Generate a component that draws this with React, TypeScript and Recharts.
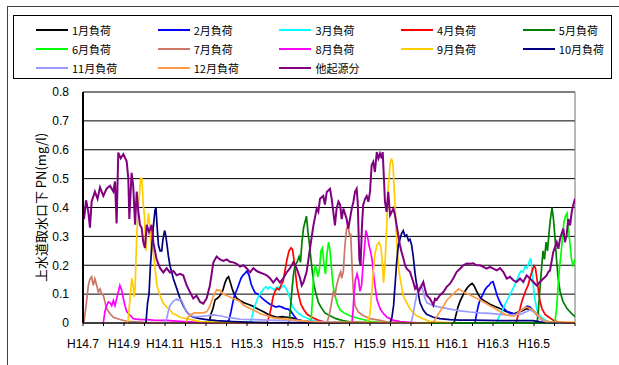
import { CartesianGrid, Line, LineChart, ReferenceLine, XAxis, YAxis } from "recharts";

type Pt = [number, number];

// x = months counted from H14.7, y = PN (mg/l)
const monthTicks = [0, 1, 2, 3, 4, 5, 6, 7, 8, 9, 10, 11, 12, 13, 14, 15, 16, 17, 18, 19, 20, 21, 22, 23, 24];
const monthLabels = ["H14.7", "H14.9", "H14.11", "H15.1", "H15.3", "H15.5", "H15.7", "H15.9", "H15.11", "H16.1", "H16.3", "H16.5"];
const pnTicks = [0, 0.1, 0.2, 0.3, 0.4, 0.5, 0.6, 0.7, 0.8];

const load01: Pt[] = [
  [6.15, 0], [6.24, 0.03], [6.34, 0.05], [6.44, 0.08], [6.54, 0.085], [6.63, 0.09], [6.73, 0.1], [6.83, 0.115],
  [6.93, 0.14], [7.02, 0.155], [7.1, 0.16], [7.17, 0.145], [7.27, 0.12], [7.37, 0.1], [7.51, 0.085], [7.66, 0.078],
  [7.85, 0.07], [8.05, 0.065], [8.24, 0.06], [8.44, 0.052], [8.63, 0.045], [8.83, 0.038], [9.02, 0.03], [9.22, 0.025],
  [9.46, 0.02], [9.71, 0.022], [9.95, 0.02], [10.2, 0.018], [10.44, 0.012], [10.68, 0.008], [11.07, 0.005], [12, 0.002],
  [18.1, 0], [18.2, 0.03], [18.29, 0.055], [18.39, 0.075], [18.49, 0.09], [18.59, 0.105], [18.68, 0.115], [18.78, 0.125],
  [18.88, 0.132], [18.98, 0.137], [19.07, 0.13], [19.17, 0.115], [19.27, 0.1], [19.41, 0.085], [19.61, 0.075], [19.85, 0.065],
  [20.1, 0.057], [20.34, 0.05], [20.59, 0.042], [20.83, 0.035], [21.02, 0.032], [21.22, 0.037], [21.41, 0.042], [21.66, 0.05],
  [21.8, 0.048], [22.0, 0.04], [22.2, 0.025], [22.39, 0.012], [22.59, 0.004], [23.2, 0],
];

const load02: Pt[] = [
  [7.02, 0], [7.12, 0.01], [7.22, 0.04], [7.32, 0.075], [7.41, 0.1], [7.51, 0.115], [7.61, 0.135], [7.71, 0.155],
  [7.8, 0.165], [7.9, 0.172], [8.0, 0.18], [8.1, 0.165], [8.2, 0.135], [8.29, 0.12], [8.39, 0.105], [8.54, 0.1],
  [8.68, 0.09], [8.83, 0.08], [8.98, 0.072], [9.12, 0.065], [9.27, 0.06], [9.41, 0.055], [9.56, 0.058], [9.71, 0.055],
  [9.85, 0.05], [10.0, 0.048], [10.15, 0.04], [10.29, 0.025], [10.44, 0.012], [10.59, 0.005], [11.5, 0],
  [19.12, 0], [19.22, 0.04], [19.32, 0.07], [19.41, 0.085], [19.51, 0.1], [19.61, 0.115], [19.71, 0.125], [19.8, 0.13],
  [19.9, 0.14], [20.0, 0.143], [20.1, 0.12], [20.2, 0.095], [20.29, 0.08], [20.39, 0.065], [20.54, 0.05], [20.68, 0.04],
  [20.88, 0.035], [21.07, 0.03], [21.27, 0.038], [21.46, 0.048], [21.66, 0.058], [21.8, 0.055], [21.95, 0.045], [22.1, 0.033],
  [22.29, 0.018], [22.49, 0.008], [22.68, 0.003], [23.4, 0],
];

const load03: Pt[] = [
  [8.15, 0], [8.24, 0.02], [8.34, 0.05], [8.44, 0.07], [8.54, 0.09], [8.63, 0.1], [8.73, 0.11], [8.83, 0.12],
  [8.93, 0.125], [9.02, 0.118], [9.12, 0.125], [9.22, 0.12], [9.32, 0.115], [9.41, 0.122], [9.51, 0.125], [9.61, 0.118],
  [9.71, 0.125], [9.8, 0.13], [9.9, 0.12], [10.0, 0.105], [10.1, 0.085], [10.2, 0.06], [10.34, 0.045], [10.49, 0.035],
  [10.68, 0.025], [10.88, 0.018], [11.07, 0.012], [11.32, 0.007], [11.56, 0.003], [12.5, 0],
  [20.15, 0], [20.29, 0.02], [20.44, 0.04], [20.59, 0.065], [20.73, 0.085], [20.88, 0.105], [21.02, 0.125], [21.17, 0.15],
  [21.27, 0.168], [21.37, 0.18], [21.46, 0.176], [21.56, 0.195], [21.66, 0.19], [21.76, 0.21], [21.83, 0.225], [21.9, 0.19],
  [21.98, 0.12], [22.05, 0.08], [22.15, 0.045], [22.29, 0.025], [22.54, 0.01], [22.78, 0.003], [23.5, 0],
];

const load04: Pt[] = [
  [8.98, 0], [9.07, 0.02], [9.17, 0.05], [9.27, 0.09], [9.37, 0.11], [9.46, 0.12], [9.56, 0.115], [9.66, 0.13],
  [9.76, 0.145], [9.85, 0.18], [9.95, 0.22], [10.05, 0.25], [10.15, 0.26], [10.22, 0.255], [10.29, 0.22], [10.37, 0.17],
  [10.44, 0.125], [10.54, 0.09], [10.63, 0.065], [10.78, 0.045], [10.93, 0.03], [11.17, 0.02], [11.46, 0.01], [11.8, 0.003],
  [12.6, 0],
  [21.12, 0], [21.22, 0.025], [21.32, 0.05], [21.41, 0.075], [21.51, 0.095], [21.61, 0.115], [21.71, 0.13], [21.8, 0.155],
  [21.9, 0.178], [22.0, 0.198], [22.07, 0.19], [22.15, 0.15], [22.22, 0.11], [22.29, 0.075], [22.39, 0.05], [22.54, 0.03],
  [22.73, 0.02], [22.93, 0.01], [23.17, 0.003], [23.8, 0],
];

const load05: Pt[] = [
  [10.05, 0], [10.12, 0.05], [10.2, 0.12], [10.27, 0.17], [10.34, 0.2], [10.44, 0.21], [10.54, 0.23], [10.61, 0.21],
  [10.68, 0.28], [10.76, 0.33], [10.83, 0.35], [10.9, 0.37], [10.98, 0.31], [11.05, 0.27], [11.12, 0.22], [11.2, 0.17],
  [11.27, 0.13], [11.37, 0.1], [11.49, 0.07], [11.61, 0.055], [11.8, 0.035], [12.05, 0.025], [12.34, 0.015], [12.68, 0.008],
  [13.02, 0.004], [14, 0],
  [22.15, 0], [22.22, 0.05], [22.29, 0.12], [22.37, 0.19], [22.44, 0.25], [22.51, 0.22], [22.59, 0.28], [22.66, 0.25],
  [22.73, 0.31], [22.8, 0.36], [22.88, 0.4], [22.95, 0.36], [23.02, 0.3], [23.1, 0.22], [23.17, 0.16], [23.27, 0.11],
  [23.41, 0.075], [23.61, 0.05], [23.8, 0.035], [24.0, 0.022],
];

const load06: Pt[] = [
  [11.12, 0], [11.19, 0.08], [11.24, 0.16], [11.32, 0.2], [11.39, 0.185], [11.46, 0.16], [11.54, 0.19], [11.61, 0.25],
  [11.68, 0.26], [11.76, 0.2], [11.83, 0.17], [11.9, 0.24], [11.98, 0.28], [12.05, 0.25], [12.12, 0.19], [12.2, 0.13],
  [12.29, 0.095], [12.41, 0.065], [12.54, 0.045], [12.73, 0.035], [13.02, 0.025], [13.32, 0.018], [13.66, 0.012], [14.0, 0.006],
  [14.39, 0.002], [15, 0],
  [23.02, 0], [23.1, 0.05], [23.17, 0.12], [23.24, 0.19], [23.32, 0.24], [23.39, 0.3], [23.46, 0.35], [23.54, 0.37],
  [23.61, 0.38], [23.68, 0.33], [23.76, 0.27], [23.83, 0.22], [23.9, 0.2], [24.0, 0.22],
];

const load07: Pt[] = [
  [0, 0], [0.05, 0.005], [0.15, 0.06], [0.26, 0.13], [0.34, 0.153], [0.42, 0.16], [0.5, 0.13], [0.58, 0.153],
  [0.67, 0.13], [0.75, 0.107], [0.83, 0.118], [0.91, 0.1], [0.99, 0.096], [1.07, 0.073], [1.15, 0.05], [1.32, 0.032],
  [1.48, 0.02], [1.8, 0.012], [2.13, 0.006], [3, 0.002], [11.9, 0],
  [12.02, 0.03], [12.13, 0.073], [12.21, 0.107], [12.29, 0.095], [12.37, 0.13], [12.5, 0.165], [12.57, 0.177], [12.62, 0.155],
  [12.7, 0.18], [12.75, 0.24], [12.78, 0.27], [12.86, 0.327], [12.94, 0.338], [12.99, 0.31], [13.02, 0.3], [13.06, 0.31],
  [13.11, 0.22], [13.19, 0.107], [13.27, 0.06], [13.43, 0.038], [13.67, 0.026], [14.0, 0.015], [14.49, 0.009], [14.81, 0.004],
  [16, 0],
];

const load08: Pt[] = [
  [0.99, 0], [1.07, 0.04], [1.15, 0.06], [1.24, 0.073], [1.32, 0.07], [1.4, 0.06], [1.48, 0.078], [1.56, 0.06],
  [1.64, 0.084], [1.72, 0.107], [1.8, 0.13], [1.89, 0.113], [1.97, 0.084], [2.05, 0.06], [2.13, 0.04], [2.29, 0.027],
  [2.45, 0.015], [2.78, 0.012], [3.11, 0.012], [3.43, 0.01], [4.08, 0.009], [4.89, 0.005], [6, 0.001], [13.12, 0],
  [13.17, 0.04], [13.22, 0.1], [13.29, 0.15], [13.37, 0.17], [13.44, 0.15], [13.51, 0.11], [13.59, 0.13], [13.66, 0.2],
  [13.73, 0.26], [13.8, 0.32], [13.88, 0.3], [13.95, 0.27], [14.02, 0.25], [14.1, 0.22], [14.17, 0.17], [14.24, 0.13],
  [14.34, 0.08], [14.49, 0.05], [14.63, 0.035], [14.83, 0.02], [15.12, 0.01], [15.46, 0.005], [16.5, 0],
];

const load09: Pt[] = [
  [2.15, 0], [2.2, 0.01], [2.29, 0.08], [2.38, 0.155], [2.44, 0.13], [2.49, 0.09], [2.54, 0.12], [2.62, 0.3],
  [2.7, 0.4], [2.81, 0.5], [2.87, 0.5], [2.94, 0.41], [3.0, 0.37], [3.07, 0.25], [3.12, 0.33], [3.2, 0.38],
  [3.27, 0.33], [3.34, 0.25], [3.41, 0.26], [3.51, 0.19], [3.61, 0.13], [3.76, 0.095], [3.9, 0.07], [4.08, 0.055],
  [4.24, 0.045], [4.39, 0.033], [4.57, 0.027], [4.73, 0.02], [5.06, 0.015], [5.37, 0.01], [5.71, 0.005], [7, 0.001],
  [13.85, 0], [14.0, 0.03], [14.08, 0.1], [14.15, 0.17], [14.24, 0.24], [14.34, 0.27], [14.44, 0.28], [14.54, 0.26],
  [14.61, 0.2], [14.66, 0.14], [14.73, 0.2], [14.81, 0.33], [14.89, 0.47], [14.98, 0.55], [15.05, 0.57], [15.12, 0.55],
  [15.19, 0.45], [15.27, 0.33], [15.34, 0.24], [15.41, 0.18], [15.51, 0.14], [15.62, 0.095], [15.79, 0.07], [15.95, 0.05],
  [16.11, 0.035], [16.28, 0.025], [16.59, 0.015], [16.93, 0.005], [18, 0],
];

const load10: Pt[] = [
  [3.07, 0], [3.15, 0.07], [3.22, 0.1], [3.29, 0.2], [3.37, 0.28], [3.44, 0.34], [3.51, 0.39], [3.56, 0.4],
  [3.61, 0.34], [3.68, 0.27], [3.76, 0.25], [3.84, 0.25], [3.9, 0.29], [3.98, 0.32], [4.02, 0.31], [4.1, 0.27],
  [4.17, 0.23], [4.24, 0.2], [4.4, 0.155], [4.57, 0.12], [4.73, 0.085], [4.89, 0.06], [5.06, 0.038], [5.22, 0.027],
  [5.38, 0.02], [5.71, 0.015], [6.03, 0.012], [6.52, 0.008], [7.32, 0.005], [9, 0.001], [14.98, 0],
  [15.07, 0.02], [15.15, 0.06], [15.22, 0.13], [15.3, 0.21], [15.38, 0.27], [15.46, 0.29], [15.54, 0.31], [15.62, 0.32],
  [15.71, 0.3], [15.79, 0.305], [15.88, 0.285], [15.95, 0.29], [16.03, 0.27], [16.11, 0.23], [16.2, 0.17], [16.28, 0.13],
  [16.36, 0.1], [16.44, 0.07], [16.6, 0.045], [16.76, 0.03], [16.93, 0.025], [17.09, 0.02], [17.41, 0.015], [17.9, 0.012],
  [18.39, 0.01], [19.02, 0.01], [20.34, 0.008], [21.32, 0.008], [21.95, 0.008], [22.29, 0.004], [23, 0],
];

const load11: Pt[] = [
  [3.95, 0], [4.08, 0.015], [4.16, 0.04], [4.24, 0.06], [4.4, 0.075], [4.57, 0.083], [4.65, 0.078], [4.73, 0.083],
  [4.81, 0.078], [4.89, 0.065], [4.98, 0.05], [5.06, 0.038], [5.22, 0.028], [5.38, 0.022], [5.71, 0.022], [6.03, 0.025],
  [6.36, 0.028], [6.68, 0.025], [7.01, 0.02], [7.33, 0.017], [7.66, 0.013], [8.31, 0.012], [8.96, 0.01], [9.94, 0.008],
  [10.59, 0.007], [11.56, 0.005], [13, 0.001], [16.0, 0],
  [16.1, 0.03], [16.2, 0.07], [16.29, 0.1], [16.39, 0.12], [16.49, 0.13], [16.59, 0.11], [16.68, 0.085], [16.78, 0.07],
  [16.93, 0.065], [17.07, 0.06], [17.41, 0.055], [17.9, 0.048], [18.39, 0.042], [18.88, 0.038], [19.37, 0.035], [19.85, 0.033],
  [20.34, 0.03], [20.83, 0.028], [21.32, 0.03], [21.66, 0.04], [21.8, 0.045], [22.0, 0.04], [22.15, 0.03], [22.29, 0.015],
  [22.44, 0.008], [22.59, 0.003], [23.3, 0],
];

const load12: Pt[] = [
  [5.02, 0], [5.12, 0.02], [5.27, 0.03], [5.46, 0.035], [5.71, 0.035], [5.9, 0.035], [6.05, 0.04], [6.2, 0.06],
  [6.34, 0.09], [6.52, 0.115], [6.68, 0.113], [6.83, 0.1], [7.01, 0.095], [7.17, 0.09], [7.32, 0.085], [7.5, 0.08],
  [7.66, 0.075], [7.82, 0.062], [8.0, 0.055], [8.15, 0.05], [8.29, 0.045], [8.47, 0.04], [8.63, 0.033], [8.96, 0.025],
  [9.28, 0.018], [9.61, 0.015], [10.1, 0.012], [10.59, 0.008], [11.07, 0.005], [11.56, 0.003], [17.02, 0],
  [17.17, 0.01], [17.32, 0.03], [17.46, 0.045], [17.61, 0.062], [17.76, 0.08], [17.9, 0.09], [18.05, 0.1], [18.2, 0.11],
  [18.32, 0.118], [18.44, 0.113], [18.63, 0.105], [18.88, 0.097], [19.12, 0.088], [19.37, 0.08], [19.61, 0.07], [19.85, 0.06],
  [20.1, 0.05], [20.34, 0.04], [20.59, 0.03], [20.83, 0.025], [21.02, 0.024], [21.22, 0.035], [21.41, 0.045], [21.61, 0.055],
  [21.76, 0.052], [21.95, 0.045], [22.15, 0.03], [22.34, 0.015], [22.54, 0.007], [22.78, 0.004], [24, 0.002],
];

const otherSource: Pt[] = [
  [0.0, 0.4], [0.05, 0.36], [0.15, 0.425], [0.26, 0.385], [0.34, 0.33], [0.42, 0.42], [0.58, 0.455], [0.71, 0.43],
  [0.83, 0.47], [0.99, 0.44], [1.15, 0.465], [1.32, 0.475], [1.48, 0.455], [1.56, 0.49], [1.64, 0.345], [1.72, 0.59],
  [1.84, 0.57], [1.97, 0.585], [2.13, 0.56], [2.21, 0.5], [2.26, 0.36], [2.37, 0.52], [2.45, 0.475], [2.54, 0.34],
  [2.62, 0.455], [2.7, 0.385], [2.78, 0.34], [2.86, 0.33], [2.94, 0.28], [3.02, 0.26], [3.11, 0.34], [3.22, 0.315],
  [3.35, 0.34], [3.43, 0.28], [3.59, 0.22], [3.76, 0.19], [3.92, 0.175], [4.08, 0.19], [4.24, 0.175], [4.41, 0.18],
  [4.57, 0.165], [4.73, 0.17], [4.89, 0.165], [5.06, 0.13], [5.22, 0.107], [5.38, 0.085], [5.54, 0.095], [5.71, 0.073],
  [5.87, 0.067], [6.03, 0.085], [6.19, 0.13], [6.36, 0.21], [6.52, 0.23], [6.68, 0.22], [6.85, 0.215], [7.01, 0.22],
  [7.17, 0.212], [7.33, 0.21], [7.5, 0.205], [7.66, 0.195], [7.82, 0.2], [7.98, 0.19], [8.15, 0.175], [8.31, 0.19],
  [8.47, 0.18], [8.63, 0.175], [8.8, 0.17], [8.96, 0.165], [9.12, 0.155], [9.28, 0.14], [9.45, 0.155], [9.61, 0.14],
  [9.77, 0.155], [9.93, 0.175], [10.1, 0.19], [10.26, 0.21], [10.42, 0.19], [10.59, 0.155], [10.67, 0.13], [10.75, 0.14],
  [10.91, 0.177], [11.07, 0.257], [11.24, 0.338], [11.4, 0.396], [11.48, 0.385], [11.56, 0.43], [11.72, 0.44], [11.8, 0.41],
  [11.89, 0.454], [12.05, 0.465], [12.13, 0.43], [12.21, 0.385], [12.29, 0.338], [12.37, 0.396], [12.46, 0.42], [12.54, 0.41],
  [12.62, 0.36], [12.7, 0.396], [12.86, 0.36], [12.94, 0.327], [13.02, 0.36], [13.11, 0.396], [13.19, 0.42], [13.27, 0.454],
  [13.35, 0.465], [13.4, 0.42], [13.48, 0.22], [13.54, 0.2], [13.61, 0.34], [13.67, 0.41], [13.76, 0.43], [13.84, 0.44],
  [13.92, 0.42], [14.0, 0.454], [14.08, 0.546], [14.16, 0.558], [14.24, 0.523], [14.33, 0.592], [14.41, 0.57], [14.49, 0.587],
  [14.57, 0.57], [14.62, 0.592], [14.68, 0.5], [14.73, 0.42], [14.81, 0.385], [14.89, 0.454], [14.98, 0.373], [15.06, 0.385],
  [15.14, 0.396], [15.22, 0.373], [15.3, 0.338], [15.38, 0.304], [15.46, 0.27], [15.54, 0.246], [15.63, 0.223], [15.71, 0.2],
  [15.79, 0.188], [15.95, 0.177], [16.11, 0.142], [16.2, 0.119], [16.28, 0.13], [16.36, 0.107], [16.52, 0.13], [16.6, 0.142],
  [16.68, 0.119], [16.76, 0.096], [16.93, 0.084], [17.01, 0.073], [17.09, 0.061], [17.17, 0.084], [17.25, 0.08], [17.41, 0.096],
  [17.58, 0.107], [17.74, 0.125], [17.9, 0.136], [18.06, 0.154], [18.23, 0.177], [18.39, 0.188], [18.55, 0.2], [18.72, 0.206],
  [18.88, 0.205], [19.04, 0.207], [19.2, 0.2], [19.37, 0.2], [19.53, 0.194], [19.69, 0.188], [19.85, 0.194], [20.02, 0.188],
  [20.18, 0.182], [20.34, 0.19], [20.5, 0.177], [20.67, 0.154], [20.83, 0.16], [20.99, 0.148], [21.15, 0.142], [21.32, 0.154],
  [21.48, 0.142], [21.64, 0.165], [21.8, 0.154], [21.97, 0.142], [22.13, 0.13], [22.29, 0.142], [22.46, 0.154], [22.62, 0.165],
  [22.7, 0.177], [22.78, 0.182], [22.94, 0.246], [23.11, 0.28], [23.19, 0.257], [23.27, 0.292], [23.43, 0.327], [23.51, 0.28],
  [23.59, 0.304], [23.67, 0.36], [23.76, 0.338], [23.84, 0.385], [23.92, 0.41], [24.0, 0.43],
];

const series = [
  { name: "1月負荷", color: "#000000", points: load01 },
  { name: "2月負荷", color: "#0000ff", points: load02 },
  { name: "3月負荷", color: "#00ffff", points: load03 },
  { name: "4月負荷", color: "#ff0000", points: load04 },
  { name: "5月負荷", color: "#008000", points: load05 },
  { name: "6月負荷", color: "#00ff00", points: load06 },
  { name: "7月負荷", color: "#cc7766", points: load07 },
  { name: "8月負荷", color: "#ff00ff", points: load08 },
  { name: "9月負荷", color: "#ffcc00", points: load09 },
  { name: "10月負荷", color: "#000080", points: load10 },
  { name: "11月負荷", color: "#9999ff", points: load11 },
  { name: "12月負荷", color: "#ff9944", points: load12 },
  { name: "他起源分", color: "#800080", points: otherSource },
];

const jpFont = "'Noto Sans CJK JP', 'Noto Sans', sans-serif";
const latinFont = "'Liberation Sans', Arial, sans-serif";

function formatMonth(m: number) {
  return m % 2 === 0 && m / 2 < monthLabels.length ? monthLabels[m / 2] : "";
}

function AxisTitle({ viewBox }: any) {
  const cx = viewBox.x - 3;
  const cy = viewBox.y + viewBox.height / 2;
  return (
    <text
      x={cx}
      y={cy}
      transform={`rotate(-90 ${cx} ${cy})`}
      textAnchor="middle"
      dominantBaseline="central"
      fontSize={13}
      fill="#000"
      fontFamily={jpFont}
    >
      上水道取水口下 PN(mg/l)
    </text>
  );
}

function LegendBox() {
  return (
    <div
      style={{
        position: "absolute",
        left: 13,
        top: 15,
        width: 599,
        height: 64,
        border: "1px solid #000",
        boxSizing: "border-box",
        background: "#fff",
      }}
    >
      {series.map((s, i) => (
        <div
          key={s.name}
          style={{
            position: "absolute",
            left: 22 + (i % 5) * 121.7,
            top: 4.5 + Math.floor(i / 5) * 19,
            height: 19,
            display: "flex",
            alignItems: "center",
          }}
        >
          <span style={{ width: 32, height: 0, borderTop: `2px solid ${s.color}` }} />
          <span style={{ marginLeft: 4, fontSize: 11, lineHeight: "19px", fontFamily: jpFont, color: "#000" }}>
            {s.name}
          </span>
        </div>
      ))}
    </div>
  );
}

export default function App() {
  return (
    <div
      style={{
        position: "absolute",
        left: 0,
        top: 0,
        width: 619,
        height: 365,
        overflow: "hidden",
        background: "#fff",
      }}
    >
      <div
        style={{
          position: "absolute",
          left: 7,
          top: 6,
          width: 640,
          height: 400,
          border: "1px solid #404040",
          boxSizing: "border-box",
        }}
      />
      <LineChart
        width={619}
        height={365}
        margin={{ top: 92, right: 44, bottom: 12, left: 43 }}
        style={{ position: "absolute", left: 0, top: 0 }}
      >
        <CartesianGrid vertical={false} stroke="#000" strokeWidth={1} />
        <XAxis
          dataKey="m"
          type="number"
          domain={[0, 24]}
          allowDataOverflow
          ticks={monthTicks}
          interval={0}
          tickFormatter={formatMonth}
          tickSize={3}
          tickMargin={13}
          height={30}
          stroke="#000"
          tick={{ fontSize: 12, fill: "#000", fontFamily: latinFont }}
        />
        <YAxis
          type="number"
          domain={[0, 0.8]}
          ticks={pnTicks}
          tickFormatter={(v: number) => (v === 0 ? "0" : v.toFixed(1))}
          width={40}
          tickLine={false}
          tickSize={6}
          tickMargin={8}
          axisLine={{ stroke: "#000", strokeWidth: 2 }}
          tick={{ fontSize: 12, fill: "#000", fontFamily: latinFont }}
          label={<AxisTitle />}
        />
        <ReferenceLine x={24} stroke="#707070" />
        {series.map((s) => (
          <Line
            key={s.name}
            name={s.name}
            data={s.points.map(([m, v]) => ({ m, v }))}
            dataKey="v"
            type="linear"
            stroke={s.color}
            strokeWidth={s.name === "他起源分" ? 2 : 1.7}
            dot={false}
            activeDot={false}
            isAnimationActive={false}
          />
        ))}
      </LineChart>
      <LegendBox />
    </div>
  );
}
